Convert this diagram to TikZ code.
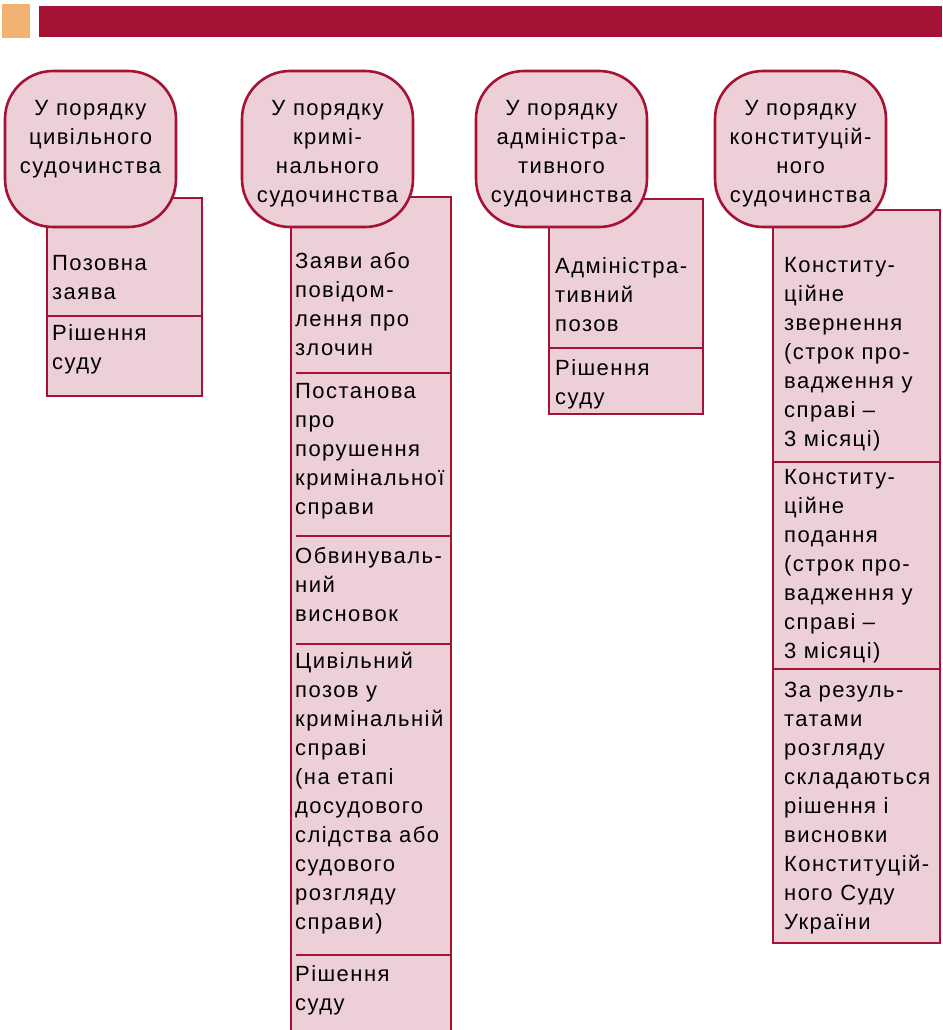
\documentclass[tikz,border=0pt]{standalone}
\usepackage{fontspec}
\setmainfont{Liberation Sans}[LetterSpace=6.6]
\definecolor{bordo}{HTML}{A51234}
\definecolor{rozh}{HTML}{EDCFD8}
\definecolor{pomar}{HTML}{F2B271}

\begin{document}
\begin{tikzpicture}[x=1pt, y=-1pt,
    golova/.style={draw=bordo, fill=rozh, line width=2.6pt, rounded corners=48pt,
      minimum width=171pt, minimum height=156pt, inner sep=0pt, outer sep=0pt},
    stovp/.style={draw=bordo, fill=rozh, line width=2.6pt, inner sep=0pt, outer sep=0pt, anchor=north west},
    napys/.style={font=\fontsize{22}{29}\selectfont, inner sep=0pt, align=center, anchor=north,
      execute at begin node=\strut},
    tekst/.style={font=\fontsize{22}{29}\selectfont, inner sep=0pt, align=left, anchor=north west,
      execute at begin node=\strut},
    rozdil/.style={draw=bordo, line width=2.6pt}]
  \useasboundingbox (0,0) rectangle (942,1030);
  % top strip
  \fill[pomar] (2,4) rectangle (30,38);
  \fill[bordo] (39,6) rectangle (942,37);

  % columns
  \node[stovp, minimum width=155pt, minimum height=198pt] (civ) at (47,198) {};
  \node[stovp, minimum width=160pt, minimum height=850pt] (krym) at (291,197) {};
  \node[stovp, minimum width=154pt, minimum height=215pt] (adm) at (549,199) {};
  \node[stovp, minimum width=167pt, minimum height=733pt] (konst) at (773,210) {};

  % separators
  \draw[rozdil] (civ.west |- 0,316) -- (civ.east |- 0,316);
  \foreach \y in {373,536,644,955}
    \draw[rozdil] (296,\y) -- (krym.east |- 0,\y);
  \draw[rozdil] (adm.west |- 0,348) -- (adm.east |- 0,348);
  \foreach \y in {462,669}
    \draw[rozdil] (konst.west |- 0,\y) -- (konst.east |- 0,\y);

  % civil
  \node[tekst] (civ1) at (52,255) {Позовна\\заява};
  \node[tekst] (civ2) at (52,324) {Рішення\\суду};
  % criminal
  \node[tekst] (krym1) at (295,252) {Заяви або\\повідом-\\лення про\\злочин};
  \node[tekst] (krym2) at (295,383) {Постанова\\про\\порушення\\кримінальної\\справи};
  \node[tekst] (krym3) at (295,547) {Обвинуваль-\\ний\\висновок};
  \node[tekst] (krym4) at (295,652) {Цивільний\\позов у\\кримінальній\\справі\\(на етапі\\досудового\\слідства або\\судового\\розгляду\\справи)};
  \node[tekst] (krym5) at (295,965) {Рішення\\суду};
  % administrative
  \node[tekst] (adm1) at (555,257) {Адміністра-\\тивний\\позов};
  \node[tekst] (adm2) at (555,359) {Рішення\\суду};
  % constitutional
  \node[tekst] (konst1) at (784,257) {Конститу-\\ційне\\звернення\\(строк про-\\вадження у\\справі –\\3 місяці)};
  \node[tekst] (konst2) at (784,469) {Конститу-\\ційне\\подання\\(строк про-\\вадження у\\справі –\\3 місяці)};
  \node[tekst] (konst3) at (784,682) {За резуль-\\татами\\розгляду\\складаються\\рішення і\\висновки\\Конституцій-\\ного Суду\\України};

  % heads
  \node[golova] (civhead) at (90.5,149) {};
  \node[golova] (krymhead) at (327.5,149) {};
  \node[golova] (admhead) at (561.5,149) {};
  \node[golova] (konsthead) at (800.5,149) {};
  \node[napys] (civtitle) at (90.5,100) {У порядку\\цивільного\\судочинства};
  \node[napys] (krymtitle) at (327.5,100) {У порядку\\кримі-\\нального\\судочинства};
  \node[napys] (admtitle) at (561.5,100) {У порядку\\адміністра-\\тивного\\судочинства};
  \node[napys] (konsttitle) at (800.5,100) {У порядку\\конституцій-\\ного\\судочинства};
\end{tikzpicture}
\end{document}
